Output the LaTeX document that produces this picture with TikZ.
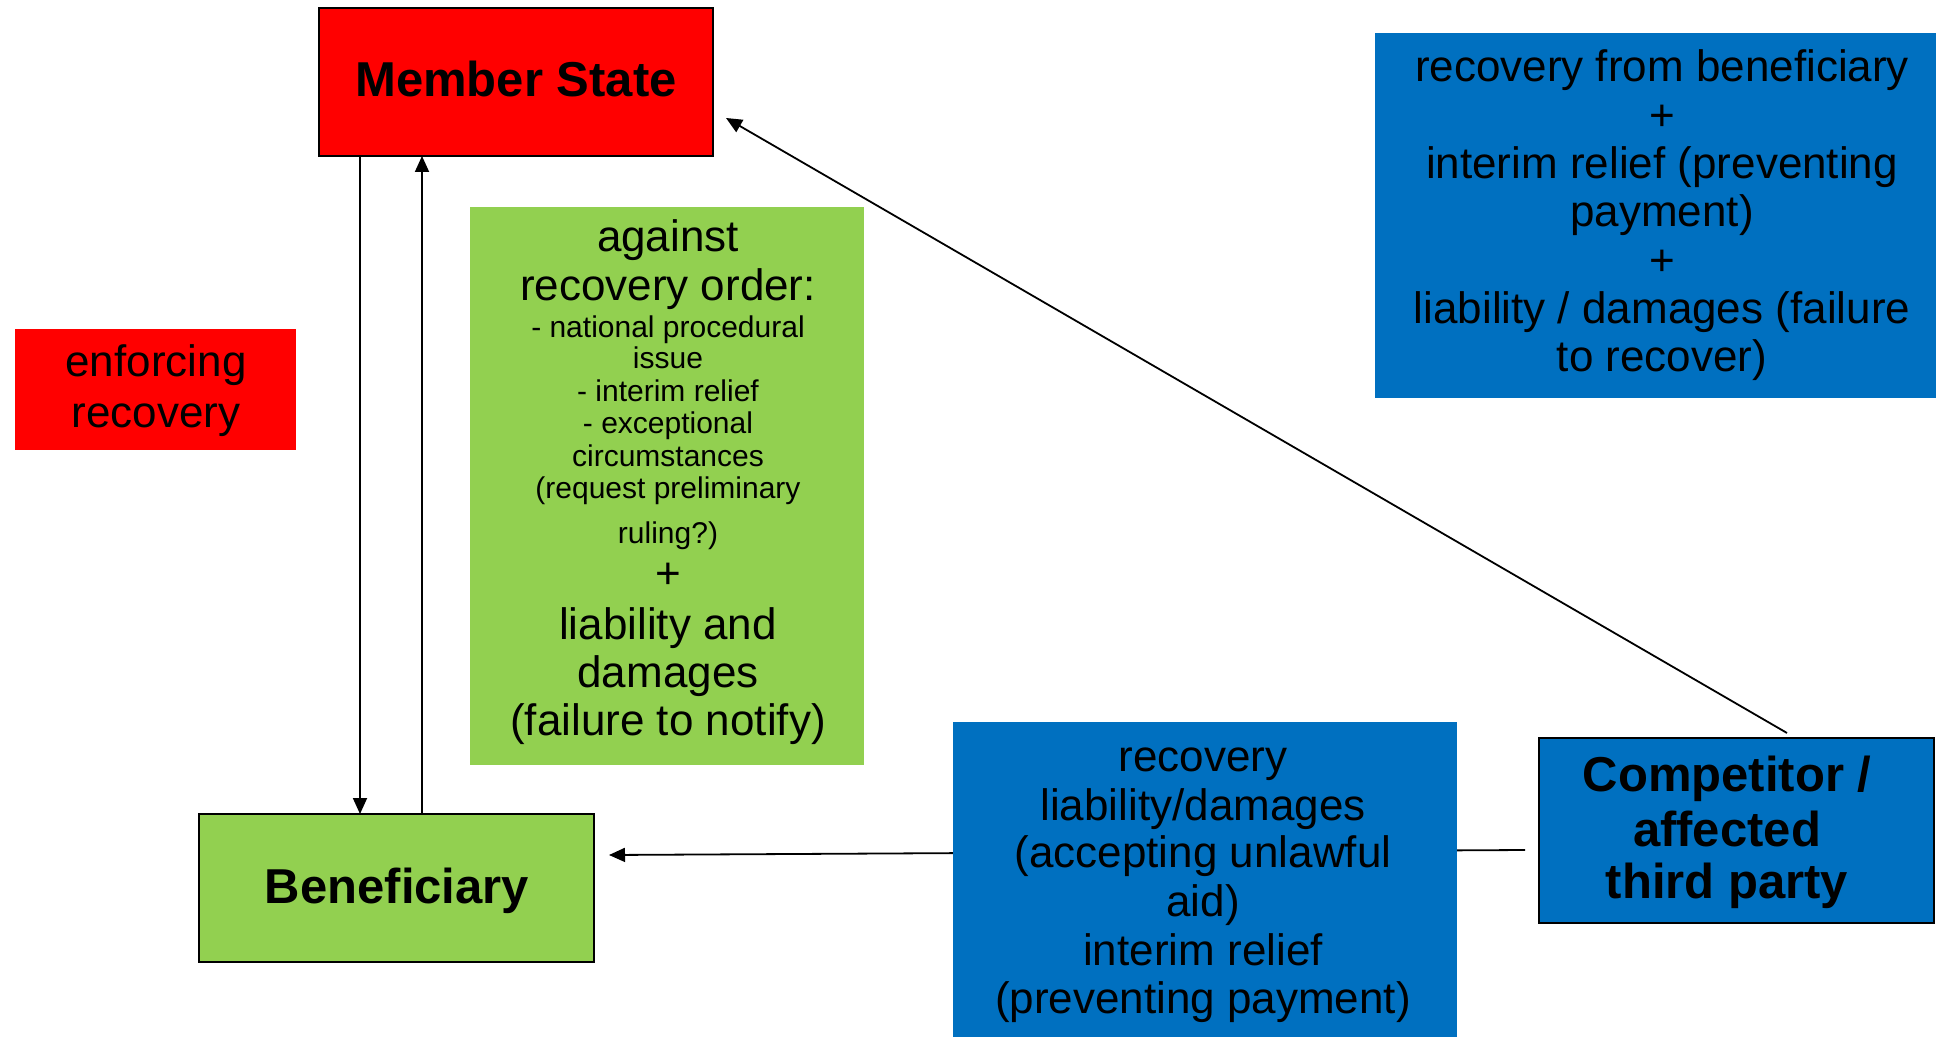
\documentclass[tikz,border=0pt]{standalone}
\usepackage{fontspec}
\setmainfont{Liberation Sans}
\usetikzlibrary{arrows.meta,backgrounds}
\definecolor{msred}{HTML}{FF0000}
\definecolor{bgreen}{HTML}{92D050}
\definecolor{cblue}{HTML}{0070C0}
\tikzset{
  box/.style={rectangle, inner sep=0pt, outer sep=0pt},
  bordered/.style={box, draw=black, line width=1pt},
  ln/.style={inner sep=0pt, outer sep=0pt, anchor=base},
  big/.style={font=\fontsize{22pt}{24pt}\selectfont},
  bigbold/.style={font=\fontsize{24.5pt}{27pt}\selectfont\bfseries},
  small/.style={font=\fontsize{15pt}{16.5pt}\selectfont},
  conn/.style={line width=0.9pt, -{Triangle[length=8pt,width=7pt]}},
}
\newcommand\tline[5]{\node[ln,#4] (#1) at (#2,#3) {#5};}
\begin{document}
\begin{tikzpicture}[x=0.5pt,y=-0.5pt]
\useasboundingbox (0,0) rectangle (1936,1037);
\clip (0,0) rectangle (1936,1037);

% boxes
\node[bordered, fill=msred, minimum width=197pt, minimum height=74pt] (ms) at (516,82) {};
\node[bordered, fill=bgreen, minimum width=197.5pt, minimum height=74pt] (ben) at (396.5,888) {};
\node[bordered, fill=cblue, minimum width=197.5pt, minimum height=92.5pt] (comp) at (1736.5,830.5) {};
\node[box, fill=msred, minimum width=140.5pt, minimum height=60.5pt] (enf) at (155.5,389.5) {};
\node[box, fill=bgreen, minimum width=197pt, minimum height=279pt] (green) at (667,486) {};
\node[box, fill=cblue, minimum width=287.5pt, minimum height=182.5pt] (blueTR) at (1662.5,215.5) {};
\node[box, fill=cblue, minimum width=252pt, minimum height=169pt] (blueB) at (1205,891) {};

% connectors
\draw[conn] (360,0 |- ms.south) -- (360,0 |- ben.north);
\draw[conn] (422,0 |- ben.north) -- (422,0 |- ms.south);
\coordinate (dstart) at ([shift={(50.5,-5)}]comp.north);
\coordinate (dtip) at ([shift={(13,36)}]ms.east);
\draw[conn] (dstart) -- (dtip);
\begin{pgfonlayer}{background}
\coordinate (hstart) at ([shift={(-14,19.5)}]comp.west);
\coordinate (htip) at ([shift={(15,-33)}]ben.east);
\draw[conn] (hstart) -- (htip);
\end{pgfonlayer}

% texts
\tline{msT}{516}{97}{bigbold}{Member State}
\tline{benT}{397}{903}{bigbold}{Beneficiary}
\tline{c1}{1727}{791}{bigbold}{Competitor /}
\tline{c2}{1727}{846}{bigbold}{affected}
\tline{c3}{1727}{898}{bigbold}{third party}

\tline{e1}{156}{377}{big}{enforcing}
\tline{e2}{156}{427}{big}{recovery}

\tline{g1}{668}{252}{big}{against}
\tline{g2}{668}{301}{big}{recovery order:}
\tline{g3}{668}{337}{small}{- national procedural}
\tline{g4}{668}{369}{small}{issue}
\tline{g5}{668}{401}{small}{- interim relief}
\tline{g6}{668}{433}{small}{- exceptional}
\tline{g7}{668}{466}{small}{circumstances}
\tline{g8}{668}{498}{small}{(request preliminary}
\tline{g9}{668}{543}{small}{ruling?)}
\tline{g10}{668}{588}{big}{+}
\tline{g11}{668}{639}{big}{liability and}
\tline{g12}{668}{687}{big}{damages}
\tline{g13}{668}{735}{big}{(failure to notify)}

\tline{r1}{1662}{82}{big}{recovery from beneficiary}
\tline{r2}{1662}{130.3}{big}{+}
\tline{r3}{1662}{178.6}{big}{interim relief (preventing}
\tline{r4}{1662}{226.9}{big}{payment)}
\tline{r5}{1662}{275.2}{big}{+}
\tline{r6}{1662}{323.5}{big}{liability / damages (failure}
\tline{r7}{1662}{371.8}{big}{to recover)}

\tline{b1}{1203}{771}{big}{recovery}
\tline{b2}{1203}{820}{big}{liability/damages}
\tline{b3}{1203}{867}{big}{(accepting unlawful}
\tline{b4}{1203}{916}{big}{aid)}
\tline{b5}{1203}{965}{big}{interim relief}
\tline{b6}{1203}{1013}{big}{(preventing payment)}
\end{tikzpicture}
\end{document}
